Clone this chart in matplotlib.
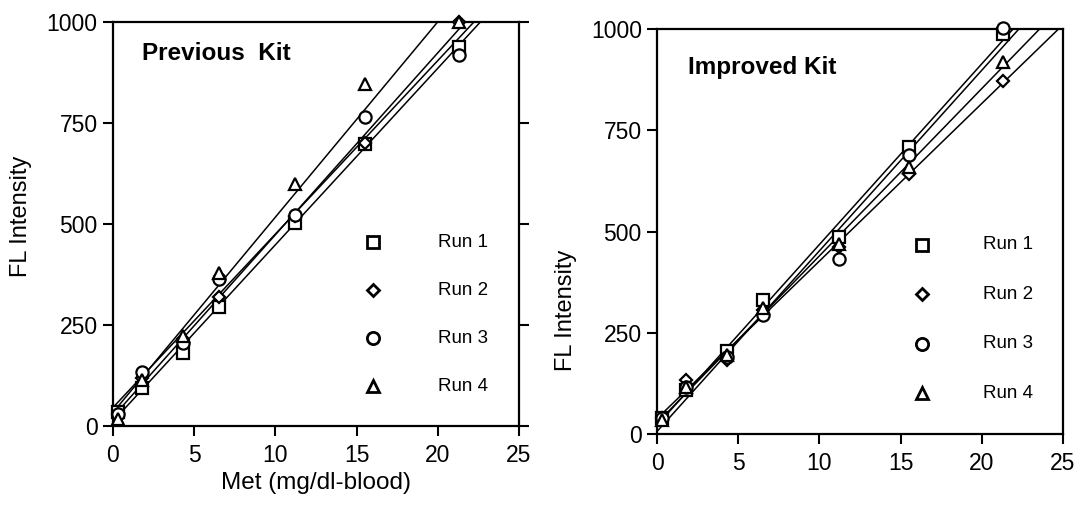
import numpy as np
import matplotlib
matplotlib.use("Agg")
import matplotlib.pyplot as plt

plt.rcParams['font.family'] = ['Liberation Sans', 'DejaVu Sans']

# ---- data ----
met_x = [0.3, 1.8, 4.3, 6.5, 11.2, 15.5, 21.3]

prev_run1 = [35, 93, 181, 294, 503, 698, 939]
prev_run2 = [30, 120, 215, 320, 520, 700, 1000]
prev_run3 = [30, 134, 205, 363, 522, 764, 918]
prev_run4 = [17, 115, 222, 380, 600, 846, 1000]

imp_run1 = [39, 109, 206, 331, 487, 709, 989]
imp_run2 = [40, 133, 183, 305, 462, 642, 871]
imp_run3 = [40, 115, 190, 294, 431, 689, 1002]
imp_run4 = [35, 115, 195, 310, 470, 660, 919]

run_labels = ["Run 1", "Run 2", "Run 3", "Run 4"]
markers = ['s', 'D', 'o', '^']
msizes = [8.5, 6.5, 8.8, 9.0]

x_ticks = [0, 5, 10, 15, 20, 25]
y_ticks = [0, 250, 500, 750, 1000]

fig = plt.figure(figsize=(10.81, 5.08), dpi=100)
ax1 = fig.add_axes([0.1045, 0.1614, 0.3756, 0.795])
ax2 = fig.add_axes([0.6078, 0.1457, 0.3756, 0.797])

prev_sets = [prev_run1, prev_run2, prev_run3, prev_run4]
imp_sets = [imp_run1, imp_run2, imp_run3, imp_run4]


def draw(ax, sets, title, title_xy, right_ticks, leg_mx, leg_tx, leg_y0, leg_dy,
         ylab_xy):
    xs_line = np.array([0.0, 25.0])
    for ys in sets:
        m, b = np.polyfit(met_x, ys, 1)
        ax.plot(xs_line, m * xs_line + b, color='black', lw=1.1, zorder=2)
    for ys, mk, ms in zip(sets, markers, msizes):
        ax.plot(met_x, ys, linestyle='none', marker=mk, ms=ms, mfc='white',
                mec='black', mew=1.6, zorder=3, clip_on=False)
    ax.set_xlim(0, 25)
    ax.set_ylim(0, 1000)
    ax.set_xticks(x_ticks)
    ax.set_yticks(y_ticks)
    ax.tick_params(direction='out', length=7, width=1.5, labelsize=16.5,
                   right=right_ticks)
    ax.tick_params(axis='x', pad=6)
    ax.tick_params(axis='y', pad=4)
    for s in ax.spines.values():
        s.set_linewidth(1.6)
    ax.text(title_xy[0], title_xy[1], title, transform=ax.transAxes,
            fontsize=17.5, fontweight='bold', ha='left', va='center')
    ax.set_ylabel("FL Intensity", fontsize=17)
    ax.yaxis.set_label_coords(*ylab_xy)
    # legend (key) drawn inside the axes
    for i, (mk, ms, lab) in enumerate(zip(markers, msizes, run_labels)):
        yy = leg_y0 - i * leg_dy
        ax.plot([leg_mx], [yy], transform=ax.transAxes, linestyle='none',
                marker=mk, ms=ms, mfc='white', mec='black', mew=2.0,
                clip_on=False, zorder=4)
        ax.text(leg_tx, yy, lab, transform=ax.transAxes, fontsize=13.5,
                ha='left', va='center')


draw(ax1, prev_sets, "Previous  Kit", (0.0707, 0.923), True,
     0.640, 0.800, 0.455, 0.119, (-0.20, 0.52))
draw(ax2, imp_sets, "Improved Kit", (0.076, 0.906), False,
     0.653, 0.803, 0.467, 0.122, (-0.197, 0.306))
ax1.set_xlabel("Met (mg/dl-blood)", fontsize=17.5)
ax1.xaxis.set_label_coords(0.5, -0.115)

fig.savefig("out.png", dpi=100)
